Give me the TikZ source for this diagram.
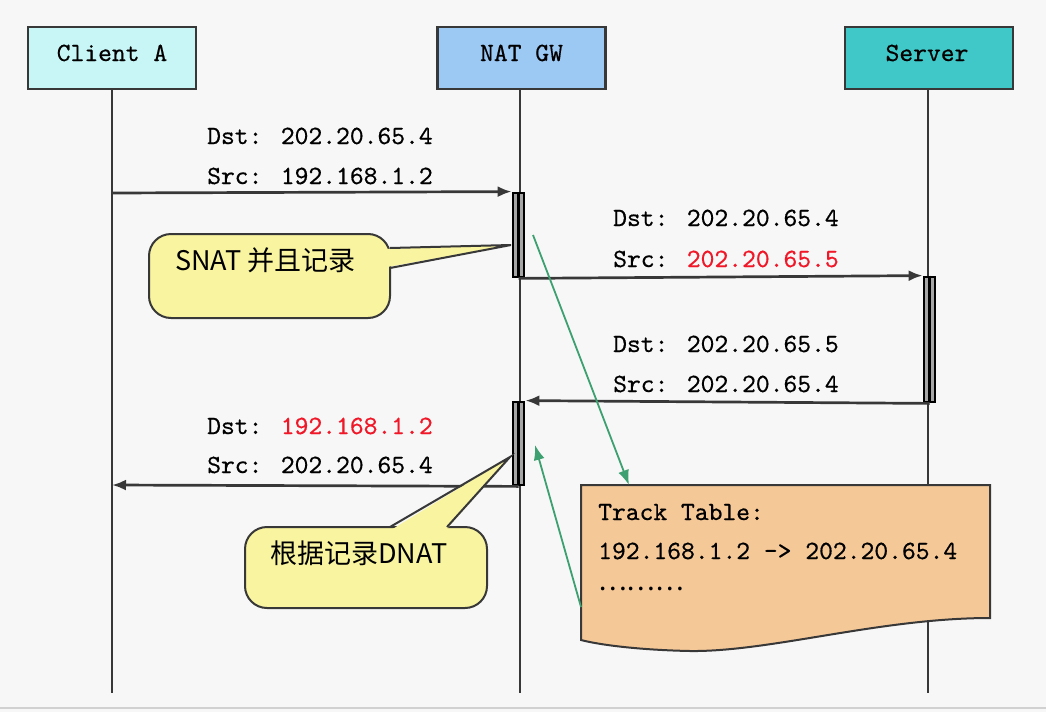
\documentclass[tikz,border=0pt]{standalone}
\usepackage{fontspec}
\newfontfamily\monofont[FakeBold=0.5]{lmmono10-regular.otf}
\newfontfamily\cjkfont{Noto Sans CJK SC}
\usetikzlibrary{arrows.meta}
\definecolor{bgc}{HTML}{F7F7F7}
\definecolor{clientc}{HTML}{C8F5F5}
\definecolor{natc}{HTML}{9CC8F4}
\definecolor{serverc}{HTML}{40C8C8}
\definecolor{callc}{HTML}{F8F4A0}
\definecolor{tablec}{HTML}{F5C898}
\definecolor{greenc}{HTML}{3CA070}
\definecolor{redc}{HTML}{F01828}
\definecolor{linec}{HTML}{383838}
\begin{document}
\begin{tikzpicture}[x=1pt,y=-1pt,
  actor/.style={draw=linec, line width=2.5pt, minimum width=168pt, minimum height=62pt, inner sep=0pt},
  mono/.style={font=\monofont\fontsize{26.3}{30}\selectfont, inner sep=0pt, text=black},
  cjk/.style={font=\cjkfont\fontsize{27}{30}\selectfont, inner sep=0pt, text=black},
  life/.style={draw=linec, line width=2pt},
  actbar/.style={draw=black, fill=gray!70, line width=2.8pt, minimum width=11pt, inner sep=0pt},
  msg/.style={draw=linec, line width=2.7pt, -{Latex[length=14pt,width=11pt]}},
  callbox/.style={draw=linec, fill=callc, line width=2pt, rounded corners=22pt, inner sep=0pt},
  callline/.style={draw=linec, line width=2pt},
  garrow/.style={draw=greenc, line width=1.8pt, -{Latex[length=15pt,width=11pt]}}
]
\fill[bgc] (0,0) rectangle (1046,712);
\useasboundingbox (0,0) rectangle (1046,712);
\draw[color=black!18, line width=1.5pt] (0,708) -- (1046,708);

% actors
\node[actor, fill=clientc] (clientA) at (112,58) {};
\node[actor, fill=natc] (natgw) at (521.5,58) {};
\node[actor, fill=serverc] (server) at (929,58) {};
\node[mono, anchor=base] (tclient) at (112,61) {Client A};
\node[mono, anchor=base] (tnat) at (521.5,61) {NAT GW};
\node[mono, anchor=base] (tserver) at (927,61) {Server};

% lifelines
\coordinate (clientEnd) at (112,693);
\coordinate (natEnd) at (520,693);
\coordinate (serverEnd) at (928,693);
\draw[life] (clientA.south -| clientEnd) -- (clientEnd);
\draw[life] (natgw.south -| natEnd) -- (natEnd);
\draw[life] (server.south -| serverEnd) -- (serverEnd);

% activation bars
\node[actbar, minimum height=84pt] (natbar1) at (518.5,235) {};
\node[actbar, minimum height=125pt] (srvbar) at (929.5,339.5) {};
\node[actbar, minimum height=83pt] (natbar2) at (518.5,443.5) {};
\draw[black, line width=2.2pt] (natbar1.north) -- (natbar1.south);
\draw[black, line width=2.2pt] (srvbar.north) -- (srvbar.south);
\draw[black, line width=2.2pt] (natbar2.north) -- (natbar2.south);

% messages
\coordinate (c1) at (112,193);
\coordinate (c4) at (112,485);
\draw[msg] (c1) -- (natbar1.north west);
\draw[msg] (natbar1.south) -- (srvbar.north west);
\draw[msg] (srvbar.south) -- (natbar2.north east);
\draw[msg] (natbar2.south) -- (c4);

% message labels
\node[mono, anchor=base west] (l1) at (207,144) {Dst: 202.20.65.4};
\node[mono, anchor=base west] (l2) at (207,184) {Src: 192.168.1.2};
\node[mono, anchor=base west] (l3) at (613,226) {Dst: 202.20.65.4};
\node[mono, anchor=base west] (l4) at (613,267) {Src: \textcolor{redc}{202.20.65.5}};
\node[mono, anchor=base west] (l5) at (613,352) {Dst: 202.20.65.5};
\node[mono, anchor=base west] (l6) at (613,392) {Src: 202.20.65.4};
\node[mono, anchor=base west] (l7) at (207,434) {Dst: \textcolor{redc}{192.168.1.2}};
\node[mono, anchor=base west] (l8) at (207,473) {Src: 202.20.65.4};

% callout 1
\node[callbox, minimum width=241pt, minimum height=84pt] (call1) at (269.5,276) {};
\coordinate (tip1) at (511,245);
\fill[callc] (387,249) -- (tip1) -- (387,267) -- cycle;
\draw[callline] (390,248) -- (tip1) -- (390,268);
\node[cjk, anchor=base west] (ct1) at (175,270) {SNAT 并且记录};

% callout 2
\node[callbox, minimum width=242pt, minimum height=81pt] (call2) at (366,567.5) {};
\coordinate (tip2) at (510,457);
\fill[callc] (391,530) -- (tip2) -- (446,530) -- cycle;
\draw[callline] (390,527) -- (tip2) -- (447,527);
\node[cjk, anchor=base west] (ct2) at (270,563) {根据记录DNAT};

% track table
\filldraw[draw=linec, fill=tablec, line width=2pt]
  (581,485) -- (990,485) -- (990,618)
  .. controls (880,618) and (770,652) .. (690,651)
  .. controls (640,650) and (600,645) .. (581,640) -- cycle;
\node[mono, anchor=base west] (tt1) at (598,520) {Track Table:};
\node[mono, anchor=base west] (tt2) at (598,559) {192.168.1.2 -> 202.20.65.4};
\node[cjk, anchor=base west] (tt3) at (598,590) {………};

% green arrows
\coordinate (g1) at (533,235);
\coordinate (t1) at (629,485);
\coordinate (t2) at (581,607);
\coordinate (g2) at (535,445);
\draw[garrow] (g1) -- (t1);
\draw[garrow] (t2) -- (g2);
\end{tikzpicture}
\end{document}
